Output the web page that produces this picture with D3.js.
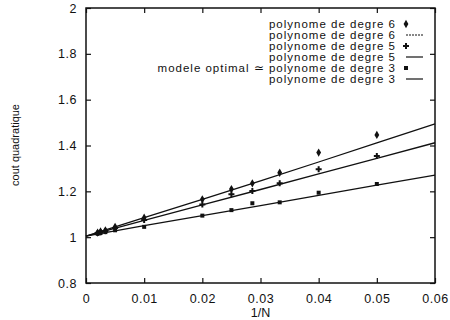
<!DOCTYPE html>
<meta charset="utf-8">
<script src="https://d3js.org/d3.v7.min.js"></script>
<style>
  body { margin: 0; background: #fff; }
  text { font-family: "Liberation Sans", Arial, sans-serif; fill: #111; }
</style>
<div id="my_dataviz"></div>
<script>

// data
var ptX   = [0.002, 0.0025, 0.00333, 0.005, 0.01, 0.02, 0.025, 0.0286, 0.0333, 0.04, 0.05];
var pts6  = [1.020, 1.025, 1.030, 1.045, 1.085, 1.165, 1.210, 1.235, 1.281, 1.369, 1.446];
var pts5  = [1.018, 1.022, 1.027, 1.040, 1.075, 1.143, 1.187, 1.201, 1.235, 1.296, 1.354];
var pts3  = [1.015, 1.018, 1.022, 1.030, 1.045, 1.094, 1.118, 1.148, 1.152, 1.194, 1.232];

var fitX  = [0, 0.01, 0.02, 0.03, 0.04, 0.05, 0.06];
var fit6  = [1.005, 1.085, 1.165, 1.246, 1.328, 1.411, 1.494];
var fit5  = [1.005, 1.073, 1.141, 1.208, 1.276, 1.344, 1.412];
var fit3  = [1.005, 1.050, 1.094, 1.138, 1.182, 1.227, 1.271];

var xTicks = [0, 0.01, 0.02, 0.03, 0.04, 0.05, 0.06];
var xTickLabels = ["0", "0.01", "0.02", "0.03", "0.04", "0.05", "0.06"];
var yTicks = [0.8, 1, 1.2, 1.4, 1.6, 1.8, 2];
var yTickLabels = ["0.8", "1", "1.2", "1.4", "1.6", "1.8", "2"];

var legendLabels = ["polynome de degre 6", "polynome de degre 6", "polynome de degre 5",
                    "polynome de degre 5", "modele optimal \u2243 polynome de degre 3", "polynome de degre 3"];

var margin = {top: 8, right: 15, bottom: 37, left: 86},
    width = 450 - margin.left - margin.right,
    height = 320 - margin.top - margin.bottom;

var svg = d3.select("#my_dataviz")
  .append("svg")
    .attr("width", 450)
    .attr("height", 320)
  .append("g")
    .attr("transform", "translate(" + margin.left + "," + margin.top + ")");

var x = d3.scaleLinear().domain([0, 0.06]).range([0, width]);
var y = d3.scaleLinear().domain([0.8, 2]).range([height, 0]);

// axes with inward ticks on all four sides
var fmtX = function(d, i) { return xTickLabels[i]; };
var fmtY = function(d, i) { return yTickLabels[i]; };

var gx = svg.append("g")
  .attr("transform", "translate(0," + height + ")")
  .call(d3.axisBottom(x).tickValues(xTicks).tickFormat(fmtX).tickSizeInner(-5).tickSizeOuter(0).tickPadding(11));
var gy = svg.append("g")
  .call(d3.axisLeft(y).tickValues(yTicks).tickFormat(fmtY).tickSizeInner(-5).tickSizeOuter(0).tickPadding(9));
svg.append("g")
  .call(d3.axisTop(x).tickValues(xTicks).tickFormat("").tickSizeInner(-5).tickSizeOuter(0));
svg.append("g")
  .attr("transform", "translate(" + width + ",0)")
  .call(d3.axisRight(y).tickValues(yTicks).tickFormat("").tickSizeInner(-5).tickSizeOuter(0));

svg.selectAll(".domain").remove();
svg.selectAll(".tick line").attr("stroke", "#111").attr("stroke-width", 1.2);
gx.selectAll("text").style("font-size", "12.5px").style("letter-spacing", "0.5px");
gy.selectAll("text").style("font-size", "12.5px").style("letter-spacing", "0.5px");

svg.append("rect")
  .attr("width", width).attr("height", height)
  .attr("fill", "none").attr("stroke", "#111").attr("stroke-width", 1.5);

// axis titles
svg.append("text")
  .attr("x", width / 2).attr("y", height + 34)
  .style("text-anchor", "middle").style("font-size", "12.5px")
  .text("1/N");
svg.append("text")
  .attr("transform", "rotate(-90)")
  .attr("x", -137).attr("y", -67)
  .style("text-anchor", "middle").style("font-size", "11px")
  .text("cout quadratique");

// fitted lines and measured points
var series = [
  {pts: pts6, fit: fit6, sym: d3.symbolDiamond, size: 20},
  {pts: pts5, fit: fit5, sym: d3.symbolCross, size: 20},
  {pts: pts3, fit: fit3, sym: d3.symbolSquare, size: 16}
];

var line = d3.line()
  .x(function(d) { return x(d[0]); })
  .y(function(d) { return y(d[1]); });

series.forEach(function(s) {
  svg.append("path")
    .datum(fitX.map(function(v, i) { return [v, s.fit[i]]; }))
    .attr("fill", "none")
    .attr("stroke", "#111")
    .attr("stroke-width", 1.3)
    .attr("d", line);

  svg.selectAll(null)
    .data(ptX.map(function(v, i) { return [v, s.pts[i]]; }))
    .enter()
    .append("path")
      .attr("d", d3.symbol().type(s.sym).size(s.size))
      .attr("fill", "#111")
      .attr("transform", function(d) { return "translate(" + x(d[0]) + "," + y(d[1]) + ")"; });
});

// legend
var legX = 310, legY0 = 16, legDy = 11;
legendLabels.forEach(function(t, i) {
  svg.append("text")
    .attr("x", legX).attr("y", legY0 + i * legDy)
    .attr("dy", "0.35em")
    .style("text-anchor", "end").style("font-size", "11.5px").style("letter-spacing", "1px")
    .text(t);
});
[[0, d3.symbolDiamond, 20], [2, d3.symbolCross, 20], [4, d3.symbolSquare, 16]].forEach(function(m) {
  svg.append("path")
    .attr("d", d3.symbol().type(m[1]).size(m[2]))
    .attr("fill", "#111")
    .attr("transform", "translate(" + (legX + 10) + "," + (legY0 + m[0] * legDy) + ")");
});
[[1, "2,1"], [3, null], [5, null]].forEach(function(m) {
  svg.append("line")
    .attr("x1", legX + 10).attr("x2", legX + 27)
    .attr("y1", legY0 + m[0] * legDy).attr("y2", legY0 + m[0] * legDy)
    .attr("stroke", "#111").attr("stroke-width", 1.2)
    .style("stroke-dasharray", m[1]);
});

</script>
